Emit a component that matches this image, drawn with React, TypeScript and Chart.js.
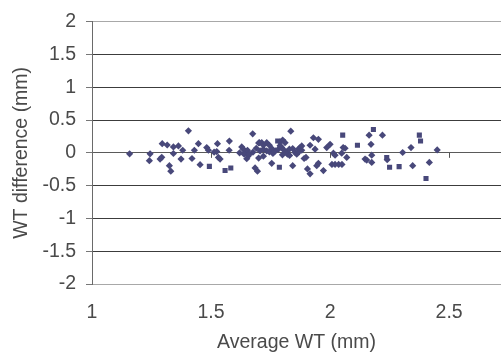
import React, { useEffect, useRef } from "react";
import { Chart, registerables } from "chart.js";

Chart.register(...registerables);

const diamondX = [
  1.158, 1.244, 1.241, 1.286, 1.293, 1.295, 1.316, 1.325, 1.331, 1.342, 1.363, 1.342, 1.374, 1.381,
  1.405, 1.42, 1.43, 1.447, 1.454, 1.482, 1.489, 1.513, 1.524, 1.531, 1.538, 1.527, 1.577, 1.576,
  1.629, 1.636, 1.646, 1.653, 1.639, 1.657, 1.675, 1.685, 1.695, 1.7, 1.676, 1.703, 1.713, 1.72,
  1.734, 1.745, 1.706, 1.72, 1.734, 1.745, 1.755, 1.755, 1.79, 1.801, 1.811, 1.783, 1.797, 1.807,
  1.815, 1.821, 1.835, 1.829, 1.843, 1.853, 1.867, 1.874, 1.881, 1.843, 1.881, 1.891, 1.899, 1.905,
  1.916, 1.916, 1.93, 1.951, 1.937, 1.944, 1.951, 1.972, 1.986, 2.0, 2.008, 2.021, 2.036, 2.05,
  2.014, 2.021, 2.049, 2.063, 2.07, 2.055, 2.147, 2.154, 2.164, 2.172, 2.175, 2.175, 2.22, 2.24,
  2.305, 2.34, 2.347, 2.417, 2.45,
  1.66, 1.77, 1.8, 1.76, 1.69, 1.83, 1.86, 1.62, 1.72, 1.79, 1.65, 1.87, 1.7,
];
const diamondY = [
  -0.015, -0.015, -0.12, -0.095, -0.068, 0.14, 0.12, -0.196, -0.28, 0.09, 0.105, -0.01, -0.095, 0.04,
  0.336, -0.086, 0.04, 0.14, -0.18, 0.08, 0.04, 0.01, 0.02, -0.07, -0.095, 0.14, 0.18, 0.04,
  0.09, 0.056, 0.015, 0.04, -0.02, -0.045, 0.29, -0.23, -0.28, 0.15, 0.01, 0.155, 0.155, 0.116,
  0.155, 0.116, 0.03, 0.056, 0.03, 0.015, 0.065, -0.16, 0.166, 0.196, 0.155, 0.056, 0.08, 0.04,
  0.015, -0.02, 0.33, 0.056, 0.065, 0.005, 0.056, 0.08, 0.04, -0.196, 0.105, -0.086, -0.07, -0.245,
  -0.32, 0.116, 0.23, 0.206, 0.056, -0.196, -0.16, -0.27, 0.08, 0.13, -0.176, -0.176, -0.176, -0.176,
  -0.005, -0.035, -0.005, 0.07, -0.07, 0.08, -0.095, -0.11, 0.27, 0.13, -0.035, -0.146, 0.27, -0.105,
  0.005, 0.08, -0.196, -0.146, 0.045,
  -0.02, 0.03, -0.03, -0.01, 0.07, -0.04, -0.02, 0.0, -0.05, 0.11, -0.09, 0.02, -0.08,
];
const squareX = [1.493, 1.559, 1.583, 1.787, 1.78, 2.053, 2.115, 2.182, 2.238, 2.25, 2.29, 2.375, 2.38, 2.403];
const squareY = [-0.206, -0.27, -0.23, -0.22, 0.18, 0.27, 0.115, 0.357, -0.07, -0.22, -0.21, 0.27, 0.18, -0.39];

const xTickValues = [1.5, 2, 2.5];
const xTitle = "Average WT (mm)";
const yTitle = "WT difference (mm)";

const markerColor = "#48487A";
const textColor = "#4a4a4a";
const fontFamily = "'Liberation Sans', Arial, sans-serif";
const fontSize = 19.5;

export default function App() {
  const ref = useRef<HTMLCanvasElement | null>(null);

  useEffect(() => {
    if (!ref.current) return;
    const zeroTicks = {
      id: "zeroTicks",
      afterDatasetsDraw(chart: any) {
        const { ctx, scales } = chart;
        const x = scales.x;
        const y = scales.y;
        const y0 = y.getPixelForValue(0);
        ctx.save();
        ctx.strokeStyle = "#555555";
        ctx.lineWidth = 1;
        xTickValues.forEach((v) => {
          const px = Math.round(x.getPixelForValue(v)) + 0.5;
          ctx.beginPath();
          ctx.moveTo(px, y0);
          ctx.lineTo(px, y0 + 5);
          ctx.stroke();
        });
        ctx.restore();
      },
    };

    const chart = new Chart(ref.current, {
      type: "scatter",
      data: {
        datasets: [
          {
            data: diamondX.map((x, i) => ({ x, y: diamondY[i] })),
            pointStyle: "rectRot",
            pointRadius: 3.6,
            backgroundColor: markerColor,
            borderColor: markerColor,
            borderWidth: 0,
          },
          {
            data: squareX.map((x, i) => ({ x, y: squareY[i] })),
            pointStyle: "rect",
            pointRadius: 3.6,
            backgroundColor: markerColor,
            borderColor: markerColor,
            borderWidth: 0,
          },
        ],
      },
      options: {
        responsive: false,
        animation: false,
        devicePixelRatio: 1,
        layout: { padding: { top: 18, left: 0, right: 0, bottom: 0 } },
        plugins: { legend: { display: false }, tooltip: { enabled: false } },
        scales: {
          x: {
            type: "linear",
            min: 1,
            max: 2.718,
            afterFit: (s: any) => {
              s.height = 74;
            },
            ticks: {
              stepSize: 0.5,
              includeBounds: false,
              padding: 17,
              color: textColor,
              font: { family: fontFamily, size: fontSize },
              maxRotation: 0,
              callback: (v: any) => String(Number(v)),
            },
            grid: { display: false, drawTicks: false },
            border: { display: false },
            title: {
              display: true,
              text: xTitle,
              color: textColor,
              font: { family: fontFamily, size: fontSize },
              padding: { top: 0, bottom: 4 },
            },
          },
          y: {
            type: "linear",
            min: -2,
            max: 2,
            afterFit: (s: any) => {
              s.width = 92;
            },
            ticks: {
              stepSize: 0.5,
              padding: 10,
              color: textColor,
              font: { family: fontFamily, size: fontSize },
              callback: (v: any) => String(Number(v)),
            },
            grid: {
              drawTicks: true,
              tickLength: 6,
              tickColor: "#777777",
              color: (ctx: any) => {
                const v = ctx.tick ? ctx.tick.value : 0;
                if (v === 0) return "#5a5a5a";
                if (v === 2 || v === -2) return "#a8a8a8";
                return "#3c3c3c";
              },
              lineWidth: 1,
            },
            border: { display: true, color: "#6a6a6a", width: 1 },
            title: {
              display: true,
              text: yTitle,
              color: textColor,
              font: { family: fontFamily, size: fontSize },
              padding: { top: 10, bottom: 0 },
            },
          },
        },
      },
      plugins: [zeroTicks],
    } as any);
    return () => chart.destroy();
  }, []);

  return (
    <div
      style={{
        position: "fixed",
        left: 0,
        top: 0,
        width: 501,
        height: 358,
        overflow: "hidden",
        background: "#ffffff",
      }}
    >
      <canvas ref={ref} width={505} height={358} style={{ display: "block" }} />
    </div>
  );
}
